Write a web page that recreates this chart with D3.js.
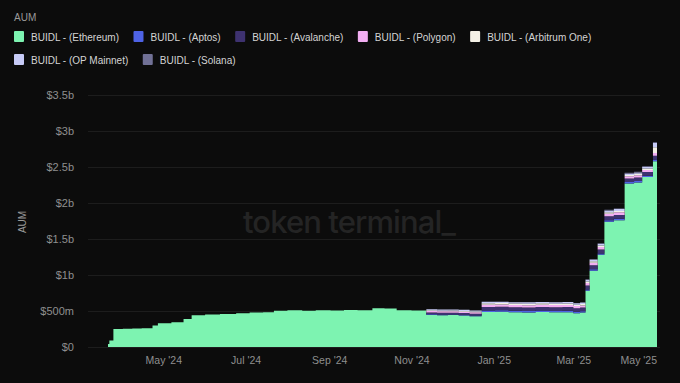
<!DOCTYPE html>
<meta charset="utf-8">
<style>
  html, body { margin: 0; padding: 0; background: #0c0c0c; }
  svg { display: block; font-family: "Liberation Sans", Arial, sans-serif; }
</style>
<body>
<div id="chart"></div>
<script src="https://d3js.org/d3.v7.min.js"></script>
<script>

// Data (AUM in $m)
var dates = ["2024-03-21","2024-03-22","2024-03-25","2024-04-01","2024-04-08","2024-04-15","2024-04-23","2024-04-27",
  "2024-05-07","2024-05-16","2024-05-22","2024-06-01","2024-06-12","2024-06-24","2024-07-04","2024-07-14",
  "2024-07-22","2024-08-01","2024-08-12","2024-08-22","2024-09-02","2024-09-12","2024-09-22","2024-10-03",
  "2024-10-12","2024-10-21","2024-11-01","2024-11-12","2024-11-20","2024-11-28","2024-12-06","2024-12-14",
  "2024-12-23","2025-01-02","2025-01-12","2025-01-22","2025-02-01","2025-02-11","2025-02-21","2025-03-01",
  "2025-03-06","2025-03-10","2025-03-13","2025-03-19","2025-03-24","2025-03-31","2025-04-08","2025-04-15",
  "2025-04-21","2025-04-29","2025-05-02"];

var ethereum = [40,90,250,255,258,262,300,330,345,390,440,450,458,468,478,483,
  503,510,503,512,507,515,511,538,533,512,508,445,440,443,436,428,
  487,490,484,480,486,481,484,468,478,780,1060,1280,1740,1760,2270,2285,
  2360,2580,2580];
var aptos = [0,0,0,0,0,0,0,0,0,0,0,0,0,0,0,0,0,0,0,0,0,0,0,0,0,0,0,10,10,10,10,10,
  20,20,20,20,20,20,20,20,20,20,20,20,20,20,20,20,20,25,25];
var avalanche = [0,0,0,0,0,0,0,0,0,0,0,0,0,0,0,0,0,0,0,0,0,0,0,0,0,0,0,25,25,24,25,24,
  50,50,49,50,50,51,50,50,50,55,55,55,55,55,50,50,50,50,50];
var polygon = [0,0,0,0,0,0,0,0,0,0,0,0,0,0,0,0,0,0,0,0,0,0,0,0,0,0,0,20,20,20,20,20,
  30,30,30,30,30,30,30,30,30,35,35,35,35,35,30,30,30,40,40];
var arbitrum = [0,0,0,0,0,0,0,0,0,0,0,0,0,0,0,0,0,0,0,0,0,0,0,0,0,0,0,10,10,10,10,10,
  20,20,20,20,20,20,20,20,20,20,20,20,20,20,20,20,20,80,80];
var opMainnet = [0,0,0,0,0,0,0,0,0,0,0,0,0,0,0,0,0,0,0,0,0,0,0,0,0,0,0,15,15,15,15,15,
  20,20,20,20,20,20,20,20,20,25,25,25,25,25,20,20,20,60,60];
var solana = [0,0,0,0,0,0,0,0,0,0,0,0,0,0,0,0,0,0,0,0,0,0,0,0,0,0,0,0,0,0,0,0,
  0,0,0,0,0,0,0,0,0,5,5,5,10,10,10,10,10,10,10];

var seriesNames = ["BUIDL - (Ethereum)","BUIDL - (Aptos)","BUIDL - (Avalanche)","BUIDL - (Polygon)",
  "BUIDL - (Arbitrum One)","BUIDL - (OP Mainnet)","BUIDL - (Solana)"];
var seriesColors = ["#7df3b1","#4e63e6","#3e3270","#f2aef2","#f4f1e6","#c7cbf7","#717196"];
var yTicks = [0,500,1000,1500,2000,2500,3000,3500];
var yTickLabels = ["$0","$500m","$1b","$1.5b","$2b","$2.5b","$3b","$3.5b"];
var xTicks = ["2024-05-01","2024-07-01","2024-09-01","2024-11-01","2025-01-01","2025-03-01","2025-05-01"];

var W = 680, H = 383;
var parse = d3.timeParse("%Y-%m-%d");
var allSeries = [ethereum, aptos, avalanche, polygon, arbitrum, opMainnet, solana];

// build rows for d3.stack
var rows = dates.map(function(d, i) {
  var r = { date: parse(d) };
  seriesNames.forEach(function(k, j) { r[k] = allSeries[j][i]; });
  return r;
});

var svg = d3.select("#chart").append("svg")
  .attr("width", W).attr("height", H);

svg.append("rect").attr("width", W).attr("height", H).attr("fill", "#0c0c0c");

var x = d3.scaleTime()
  .domain(d3.extent(rows, function(d) { return d.date; }))
  .range([108, 657]);
var y = d3.scaleLinear().domain([0, 3500]).range([347, 95]);

// gridlines
svg.append("g").selectAll("line").data(yTicks).join("line")
  .attr("x1", 88).attr("x2", 660)
  .attr("y1", function(d) { return y(d) + 0.5; })
  .attr("y2", function(d) { return y(d) + 0.5; })
  .attr("stroke", "#1d1d1d").attr("stroke-width", 1);

// watermark
svg.append("text")
  .attr("x", 349).attr("y", 233)
  .attr("text-anchor", "middle")
  .attr("font-family", "Inter, sans-serif")
  .attr("font-size", 31).attr("font-weight", 500)
  .attr("letter-spacing", -0.9)
  .attr("fill", "#242424")
  .text("token terminal_");

// stacked areas
var stack = d3.stack().keys(seriesNames);
var layers = stack(rows);
var area = d3.area()
  .curve(d3.curveStepAfter)
  .x(function(d) { return x(d.data.date); })
  .y0(function(d) { return y(d[0]); })
  .y1(function(d) { return y(d[1]); });

svg.append("g").selectAll("path").data(layers).join("path")
  .attr("fill", function(d, i) { return seriesColors[i]; })
  .attr("d", area);

// y axis
var yAxis = d3.axisLeft(y).tickValues(yTicks).tickSize(0).tickPadding(0)
  .tickFormat(function(d, i) { return yTickLabels[i]; });
var gy = svg.append("g").attr("transform", "translate(74,0)").call(yAxis);
gy.select(".domain").remove();
gy.selectAll("text").attr("fill", "#8f8f8f").attr("font-size", 11)
  .attr("font-family", "Liberation Sans, Arial, sans-serif");

svg.append("text")
  .attr("transform", "translate(26,222) rotate(-90)")
  .attr("text-anchor", "middle")
  .attr("fill", "#9a9a9a").attr("font-size", 10)
  .text("AUM");

// x axis
var xAxis = d3.axisBottom(x).tickValues(xTicks.map(parse)).tickSize(0).tickPadding(0)
  .tickFormat(d3.timeFormat("%b '%y"));
var gx = svg.append("g").attr("transform", "translate(0,357)").call(xAxis);
gx.select(".domain").remove();
gx.selectAll("text").attr("fill", "#8f8f8f").attr("font-size", 10.5)
  .attr("font-family", "Liberation Sans, Arial, sans-serif")
  .attr("dy", "0.71em");
// keep the last label inside the plot
gx.selectAll(".tick").each(function() {
  var t = d3.select(this).select("text");
  var tr = d3.select(this).attr("transform");
  var tx = +tr.match(/translate\(([^,]+)/)[1];
  var w = t.node().getComputedTextLength();
  if (tx + w / 2 > 657) t.attr("x", 657 - w / 2 - tx);
});

// legend
svg.append("text").attr("x", 14).attr("y", 21)
  .attr("fill", "#9a9a9a").attr("font-size", 10).text("AUM");

var rowsLegend = [[0,1,2,3,4],[5,6]];
rowsLegend.forEach(function(items, r) {
  var lx = 14, ly = 31 + r * 23;
  items.forEach(function(i) {
    svg.append("rect").attr("x", lx).attr("y", ly).attr("width", 10).attr("height", 11)
      .attr("rx", 1).attr("fill", seriesColors[i]);
    var t = svg.append("text").attr("x", lx + 17).attr("y", ly + 9.5)
      .attr("fill", "#d4d4d4").attr("font-size", 10).text(seriesNames[i]);
    lx = lx + 17 + t.node().getComputedTextLength() + 14.5;
  });
});

</script>
</body>
